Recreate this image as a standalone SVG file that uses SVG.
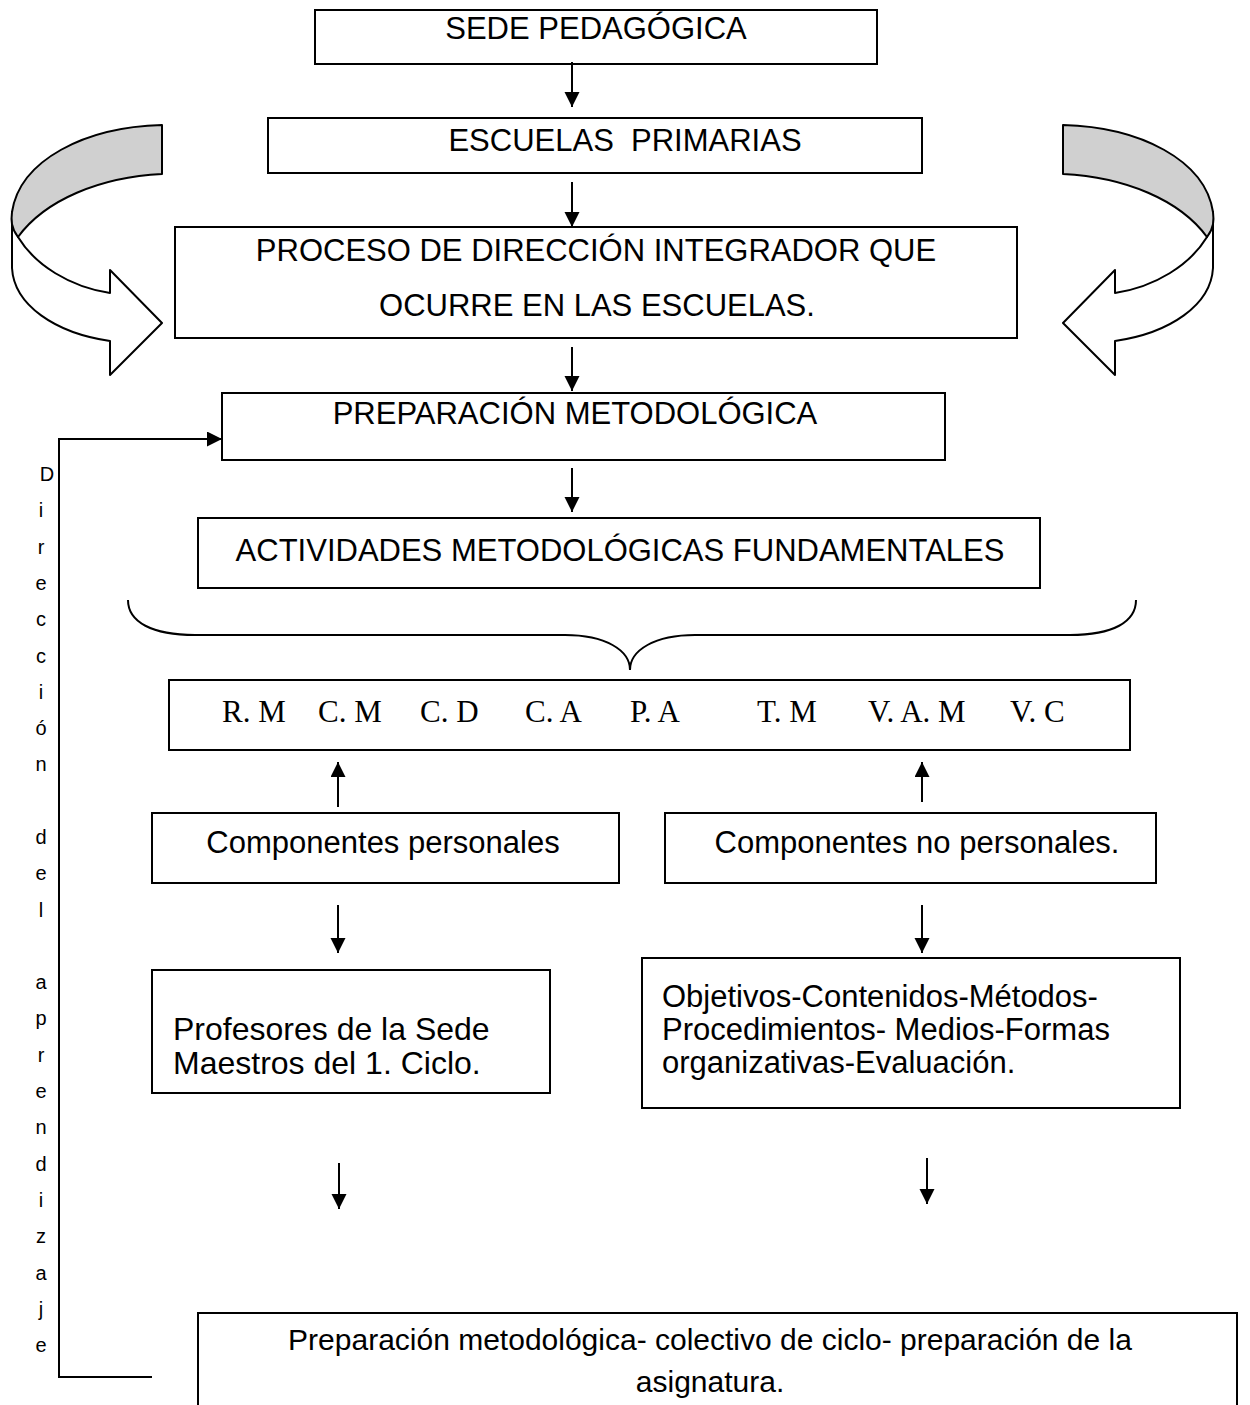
<svg xmlns="http://www.w3.org/2000/svg" width="1250" height="1405" viewBox="0 0 1250 1405">
<style>
.box{fill:#fff;stroke:#000;stroke-width:2}
.t{font-family:"Liberation Sans",Arial,sans-serif;font-size:31px;fill:#000}
.c{text-anchor:middle}
.v{font-family:"Liberation Sans",Arial,sans-serif;font-size:20px;fill:#000;text-anchor:middle}
.s{font-family:"Liberation Serif","Times New Roman",serif;font-size:31px;fill:#000}
.ln{fill:none;stroke:#000;stroke-width:2}
.rib{stroke:#000;stroke-width:2;stroke-linejoin:round}
</style>
<defs>
<marker id="ah" markerWidth="16" markerHeight="16" refX="15" refY="7.5" orient="auto" markerUnits="userSpaceOnUse">
<path d="M0,0 L15,7.5 L0,15 Z" fill="#000"/>
</marker>
<g id="curl">
<path class="rib" fill="#fff" d="M12,212 L12,268 C14,305 55,333 110,341 L110,375 L162,323 L110,270 L110,293 C70,287 35,265 18,237 Z"/>
<path class="rib" fill="#d0d0d0" d="M162,125 L162,174 C100,177 45,200 18,237 C11,228 11,220 12,212 C20,160 85,127 162,125 Z"/>
</g>
</defs>

<g id="curl-left"><use href="#curl"/></g>
<g id="curl-right"><use href="#curl" transform="translate(1225,0) scale(-1,1)"/></g>

<g id="n1"><rect class="box" x="315" y="10" width="562" height="54"/><text class="t c" x="596" y="39">SEDE PEDAGÓGICA</text></g>
<g id="n2"><rect class="box" x="268" y="118" width="654" height="55"/><text class="t c" x="625" y="151" xml:space="preserve">ESCUELAS  PRIMARIAS</text></g>
<g id="n3"><rect class="box" x="175" y="227" width="842" height="111"/><text class="t c" x="596" y="261">PROCESO DE DIRECCIÓN INTEGRADOR QUE</text><text class="t c" x="597" y="316">OCURRE EN LAS ESCUELAS.</text></g>
<g id="n4"><rect class="box" x="222" y="393" width="723" height="67"/><text class="t c" x="575" y="424">PREPARACIÓN METODOLÓGICA</text></g>
<g id="n5"><rect class="box" x="198" y="518" width="842" height="70"/><text class="t c" x="620" y="561">ACTIVIDADES METODOLÓGICAS FUNDAMENTALES</text></g>
<g id="n6"><rect class="box" x="169" y="680" width="961" height="70"/>
<text class="s" y="722"><tspan x="222">R. M</tspan><tspan x="318">C. M</tspan><tspan x="420">C. D</tspan><tspan x="525">C. A</tspan><tspan x="630">P. A</tspan><tspan x="757">T. M</tspan><tspan x="868">V. A. M</tspan><tspan x="1010">V. C</tspan></text></g>
<g id="n7"><rect class="box" x="152" y="813" width="467" height="70"/><text class="t c" x="383" y="853">Componentes personales</text></g>
<g id="n8"><rect class="box" x="665" y="813" width="491" height="70"/><text class="t c" x="917" y="853">Componentes no personales.</text></g>
<g id="n9"><rect class="box" x="152" y="970" width="398" height="123"/><text class="t" style="font-size:32px" x="173" y="1040">Profesores de la Sede</text><text class="t" style="font-size:32px" x="173" y="1074">Maestros del 1. Ciclo.</text></g>
<g id="n10"><rect class="box" x="642" y="958" width="538" height="150"/><text class="t" x="662" y="1007">Objetivos-Contenidos-Métodos-</text><text class="t" x="662" y="1040">Procedimientos- Medios-Formas</text><text class="t" x="662" y="1073">organizativas-Evaluación.</text></g>
<g id="n11"><path class="ln" d="M198,1405 L198,1313 L1237,1313 L1237,1405"/><text class="t c" style="font-size:30px" x="710" y="1350">Preparación metodológica- colectivo de ciclo- preparación de la</text><text class="t c" style="font-size:30px" x="710" y="1392">asignatura.</text></g>

<g id="label-side">
<text class="v" x="47" y="481">D</text>
<text class="v" x="41" y="517">i</text>
<text class="v" x="41" y="554">r</text>
<text class="v" x="41" y="590">e</text>
<text class="v" x="41" y="626">c</text>
<text class="v" x="41" y="663">c</text>
<text class="v" x="41" y="699">i</text>
<text class="v" x="41" y="735">ó</text>
<text class="v" x="41" y="771">n</text>
<text class="v" x="41" y="844">d</text>
<text class="v" x="41" y="880">e</text>
<text class="v" x="41" y="917">l</text>
<text class="v" x="41" y="989">a</text>
<text class="v" x="41" y="1025">p</text>
<text class="v" x="41" y="1062">r</text>
<text class="v" x="41" y="1098">e</text>
<text class="v" x="41" y="1134">n</text>
<text class="v" x="41" y="1171">d</text>
<text class="v" x="41" y="1207">i</text>
<text class="v" x="41" y="1243">z</text>
<text class="v" x="41" y="1280">a</text>
<text class="v" x="41" y="1316">j</text>
<text class="v" x="41" y="1352">e</text>
</g>

<g id="connectors">
<line class="ln" x1="572" y1="62" x2="572" y2="107" marker-end="url(#ah)"/>
<line class="ln" x1="572" y1="182" x2="572" y2="227" marker-end="url(#ah)"/>
<line class="ln" x1="572" y1="347" x2="572" y2="391" marker-end="url(#ah)"/>
<line class="ln" x1="572" y1="468" x2="572" y2="512" marker-end="url(#ah)"/>
<path class="ln" d="M128,600 C128,622 152,635 195,635 L565,635 C605,635 630,650 630,670 C630,650 655,635 695,635 L1070,635 C1113,635 1136,622 1136,600"/>
<line class="ln" x1="338" y1="807" x2="338" y2="762" marker-end="url(#ah)"/>
<line class="ln" x1="922" y1="802" x2="922" y2="762" marker-end="url(#ah)"/>
<line class="ln" x1="338" y1="905" x2="338" y2="953" marker-end="url(#ah)"/>
<line class="ln" x1="922" y1="905" x2="922" y2="953" marker-end="url(#ah)"/>
<line class="ln" x1="339" y1="1163" x2="339" y2="1209" marker-end="url(#ah)"/>
<line class="ln" x1="927" y1="1158" x2="927" y2="1204" marker-end="url(#ah)"/>
<path class="ln" d="M152,1377 L59,1377 L59,439 L222,439" marker-end="url(#ah)"/>
</g>
</svg>
